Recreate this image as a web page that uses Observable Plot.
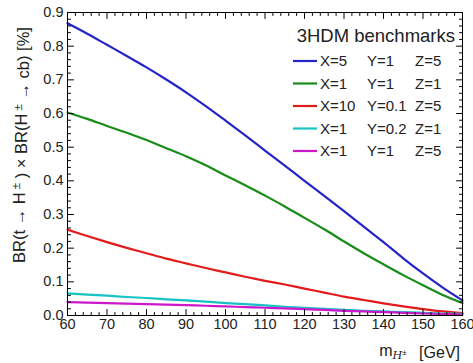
<!DOCTYPE html>
<html><head><meta charset="utf-8">
<script src="https://cdn.jsdelivr.net/npm/d3@7"></script>
<script src="https://cdn.jsdelivr.net/npm/@observablehq/plot@0.6"></script>
<style>
body{margin:0;background:#fff}
#chart{position:relative;width:473px;height:363px}
</style>
</head><body><div id="chart"></div>
<script>
// ---- data ----
const mass = [60,65,70,75,80,85,90,95,100,105,110,115,120,125,130,135,140,145,150,155,160];
const brX5Y1Z5   = [0.868,0.837,0.804,0.771,0.737,0.701,0.663,0.622,0.579,0.535,0.490,0.445,0.400,0.355,0.310,0.264,0.218,0.170,0.125,0.083,0.045];
const brX1Y1Z1   = [0.603,0.584,0.563,0.543,0.521,0.497,0.473,0.446,0.416,0.387,0.356,0.324,0.290,0.256,0.220,0.185,0.152,0.120,0.090,0.061,0.037];
const brX10Y01Z5 = [0.255,0.236,0.218,0.201,0.185,0.169,0.155,0.141,0.128,0.115,0.103,0.092,0.080,0.068,0.056,0.046,0.036,0.027,0.019,0.012,0.007];
const brX1Y02Z1  = [0.066,0.062,0.059,0.055,0.052,0.048,0.045,0.041,0.037,0.034,0.030,0.026,0.023,0.020,0.017,0.014,0.012,0.010,0.008,0.006,0.005];
const brX1Y1Z5   = [0.040,0.0385,0.037,0.0355,0.034,0.0325,0.031,0.029,0.027,0.025,0.023,0.021,0.019,0.0165,0.014,0.012,0.010,0.008,0.006,0.0045,0.003];

const seriesValues = [brX5Y1Z5, brX1Y1Z1, brX10Y01Z5, brX1Y02Z1, brX1Y1Z5];
const legendX = ["X=5","X=1","X=10","X=1","X=1"];
const legendY = ["Y=1","Y=1","Y=0.1","Y=0.2","Y=1"];
const legendZ = ["Z=5","Z=1","Z=5","Z=1","Z=5"];
const seriesColors = ["#2424c8","#178c17","#e41b1b","#17c2c2","#cc18cc"];
const legendTitle = "3HDM benchmarks";

const xMajor = [60,70,80,90,100,110,120,130,140,150,160];
const xMinor = d3.range(60,161,2).filter(v => v % 10 !== 0);
const yMajor = [0,0.1,0.2,0.3,0.4,0.5,0.6,0.7,0.8,0.9];
const yMinor = d3.range(0,45).map(i => i*0.02).filter((v,i) => i % 5 !== 0);

// ---- build table ----
const rows = [];
seriesValues.forEach((vals, s) => vals.forEach((v, i) => rows.push({series: s, m: mass[i], br: v})));

const tickShape = {draw(ctx, l) { ctx.moveTo(0, 0); ctx.lineTo(0, -l); }};
const tk = (data, opts) => Plot.vector(data, {anchor: "start", shape: tickShape, stroke: "#000", strokeWidth: 1, ...opts});

const W = 473, H = 363;
const plot = Plot.plot({
  width: W, height: H,
  marginLeft: 67, marginRight: 11, marginTop: 12, marginBottom: 48,
  style: {fontFamily: "'Liberation Sans', Arial, sans-serif", fontSize: "14px", color: "#222", background: "#fff"},
  x: {domain: [60,160]},
  y: {domain: [0,0.9]},
  marks: [
    Plot.line(rows, {x: "m", y: "br", z: "series", stroke: d => seriesColors[d.series], strokeWidth: 2.2, curve: "catmull-rom"}),
    Plot.frame({stroke: "#000", strokeWidth: 1}),
    // inward ticks on all four sides
    tk(xMajor, {x: d => d, y: 0, length: 6, rotate: 0}),
    tk(xMinor, {x: d => d, y: 0, length: 3, rotate: 0}),
    tk(xMajor, {x: d => d, y: 0.9, length: 6, rotate: 180}),
    tk(xMinor, {x: d => d, y: 0.9, length: 3, rotate: 180}),
    tk(yMajor, {y: d => d, x: 60, length: 6, rotate: 90}),
    tk(yMinor, {y: d => d, x: 60, length: 3, rotate: 90}),
    tk(yMajor, {y: d => d, x: 160, length: 6, rotate: -90}),
    tk(yMinor, {y: d => d, x: 160, length: 3, rotate: -90}),
    Plot.axisX({ticks: xMajor, tickSize: 0, tickPadding: 3, fontSize: 14.5, label: null}),
    Plot.axisY({ticks: yMajor, tickSize: 0, tickPadding: 4, fontSize: 14.5, tickFormat: d3.format(".1f"), label: null})
  ]
});
document.getElementById("chart").appendChild(plot);

// ---- annotations: axis titles & legend ----
const svg = d3.select(plot);
const ff = "'Liberation Sans', Arial, sans-serif";

// y title
const yt = svg.append("text")
  .attr("transform", "translate(25,145) rotate(-90)")
  .attr("text-anchor", "middle")
  .attr("font-family", ff).attr("font-size", 16.5).attr("fill", "#222");
yt.append("tspan").text("BR(t \u2192 H");
yt.append("tspan").attr("dy", "-0.45em").attr("font-size", "0.7em").text(" \u00b1");
yt.append("tspan").attr("dy", "0.45em").text(" ) \u00d7 BR(H");
yt.append("tspan").attr("dy", "-0.45em").attr("font-size", "0.7em").text(" \u00b1");
yt.append("tspan").attr("dy", "0.45em").text(" \u2192 cb) [%]");

// x title
const xt = svg.append("text")
  .attr("x", 460).attr("y", 356)
  .attr("text-anchor", "end")
  .attr("font-family", ff).attr("font-size", 16).attr("fill", "#222");
xt.append("tspan").text("m");
xt.append("tspan").attr("dy", "0.25em").attr("font-size", "0.7em").attr("font-style", "italic").attr("font-family", "'DejaVu Serif', serif").text("H");
xt.append("tspan").attr("dy", "-0.45em").attr("font-size", "0.5em").text("\u00b1");
xt.append("tspan").attr("dy", "0.2em").text("\u2002 [GeV]");

// legend
svg.append("text").attr("x", 455).attr("y", 42).attr("text-anchor", "end")
  .attr("font-family", ff).attr("font-size", 18.5).attr("fill", "#222").text(legendTitle);
const lg = svg.append("g").attr("font-family", ff).attr("font-size", 15).attr("fill", "#222").attr("text-anchor", "start");
seriesColors.forEach((c, i) => {
  const y = 61 + i * 22.5;
  lg.append("line").attr("x1", 293).attr("x2", 317).attr("y1", y).attr("y2", y).attr("stroke", c).attr("stroke-width", 2.2);
  lg.append("text").attr("x", 320).attr("y", y).attr("dy", "0.36em").attr("text-anchor", "start").text(legendX[i]);
  lg.append("text").attr("x", 367).attr("y", y).attr("dy", "0.36em").attr("text-anchor", "start").text(legendY[i]);
  lg.append("text").attr("x", 415).attr("y", y).attr("dy", "0.36em").attr("text-anchor", "start").text(legendZ[i]);
});
</script>
</body></html>
